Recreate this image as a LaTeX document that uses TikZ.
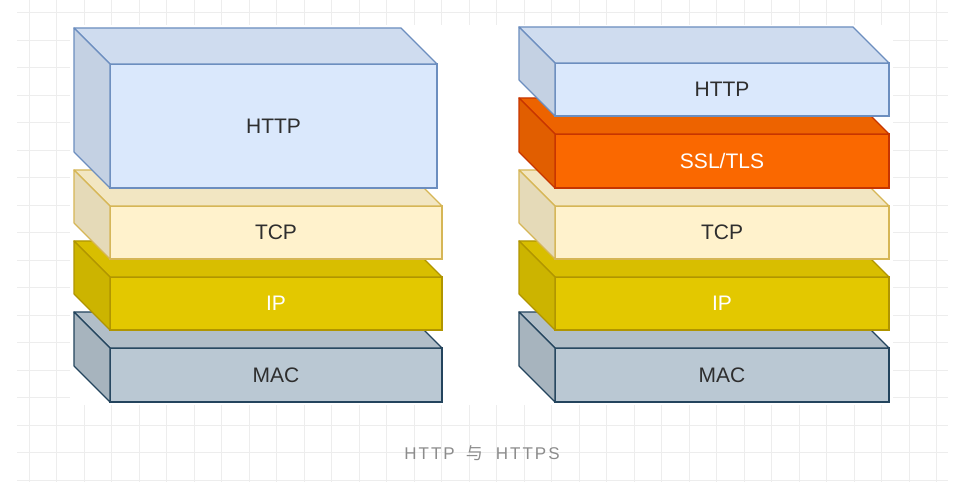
\documentclass[tikz,border=0pt]{standalone}
\usepackage{fontspec}
\setmainfont{Liberation Sans}
\newfontfamily\capfont{Liberation Sans}[LetterSpace=12]
\newfontfamily\cjkfont{Noto Sans CJK SC}
\usetikzlibrary{positioning}
\usepackage{xcolor}

\definecolor{httpfill}{HTML}{DAE8FC}
\definecolor{httpline}{HTML}{6C8EBF}
\definecolor{sslfill}{HTML}{FA6800}
\definecolor{sslline}{HTML}{C73500}
\definecolor{tcpfill}{HTML}{FFF2CC}
\definecolor{tcpline}{HTML}{D6B656}
\definecolor{ipfill}{HTML}{E3C800}
\definecolor{ipline}{HTML}{B09500}
\definecolor{macfill}{HTML}{BAC8D3}
\definecolor{macline}{HTML}{23445D}
\definecolor{labeltext}{HTML}{2E2E2E}
\definecolor{captext}{HTML}{8C8C8C}
\definecolor{gridgray}{HTML}{EDEDED}

% top and left faces of a layer block
\newcommand{\layerfaces}[3]{%
  \filldraw[fill=#2!95!black,draw=#3,line width=1.2pt,line join=round]
    (#1.north west) -- ++(-36,36) -- ([shift={(-36pt,36pt)}]#1.north east) -- (#1.north east) -- cycle;
  \filldraw[fill=#2!90!black,draw=#3,line width=1.2pt,line join=round]
    (#1.north west) -- ++(-36,36) -- ([shift={(-36pt,36pt)}]#1.south west) -- (#1.south west) -- cycle;
}

\begin{document}
\begin{tikzpicture}[x=1pt,y=1pt,node distance=18pt,
  layer/.style={draw,line width=1.2pt,minimum width=332pt,minimum height=54pt,inner sep=0pt,
    outer sep=0pt,text=labeltext,font=\fontsize{21}{25}\selectfont},
  gridline/.style={draw=gridgray,line width=0.9pt},
  caption/.style={text=captext,font=\fontsize{17}{20}\capfont}]
\useasboundingbox (0,0) rectangle (968,482);

% background grid
\foreach \k in {0,...,33}
  \draw[gridline] (29+27.5*\k,0) -- (29+27.5*\k,482);
\foreach \k in {0,...,17}
  \draw[gridline] (17,469.5-27.5*\k) -- (948,469.5-27.5*\k);
\fill[white] (70,77) rectangle (893,457);

% HTTP stack
\node[layer,fill=macfill,draw=macline] (lmac) at (276,107) {MAC};
\layerfaces{lmac}{macfill}{macline}
\node[layer,fill=ipfill,draw=ipline,text=white,minimum height=53pt,above=of lmac] (lip) {IP};
\layerfaces{lip}{ipfill}{ipline}
\node[layer,fill=tcpfill,draw=tcpline,minimum height=53pt,above=of lip] (ltcp) {TCP};
\layerfaces{ltcp}{tcpfill}{tcpline}
\node[layer,fill=httpfill,draw=httpline,minimum width=327pt,minimum height=124pt,
  above=of ltcp.north west,anchor=south west] (lhttp) {HTTP};
\layerfaces{lhttp}{httpfill}{httpline}

% HTTPS stack
\node[layer,fill=macfill,draw=macline,minimum width=334pt] (rmac) at (722,107) {MAC};
\layerfaces{rmac}{macfill}{macline}
\node[layer,fill=ipfill,draw=ipline,text=white,minimum width=334pt,minimum height=53pt,above=of rmac] (rip) {IP};
\layerfaces{rip}{ipfill}{ipline}
\node[layer,fill=tcpfill,draw=tcpline,minimum width=334pt,minimum height=53pt,above=of rip] (rtcp) {TCP};
\layerfaces{rtcp}{tcpfill}{tcpline}
\node[layer,fill=sslfill,draw=sslline,text=white,minimum width=334pt,above=of rtcp] (rssl) {SSL/TLS};
\layerfaces{rssl}{sslfill}{sslline}
\node[layer,fill=httpfill,draw=httpline,minimum width=334pt,minimum height=53pt,above=of rssl] (rhttp) {HTTP};
\layerfaces{rhttp}{httpfill}{httpline}

\node[caption] (cap) at (482,29) {HTTP\hspace{11pt}{\cjkfont 与}\hspace{13pt}HTTPS};
\end{tikzpicture}
\end{document}
